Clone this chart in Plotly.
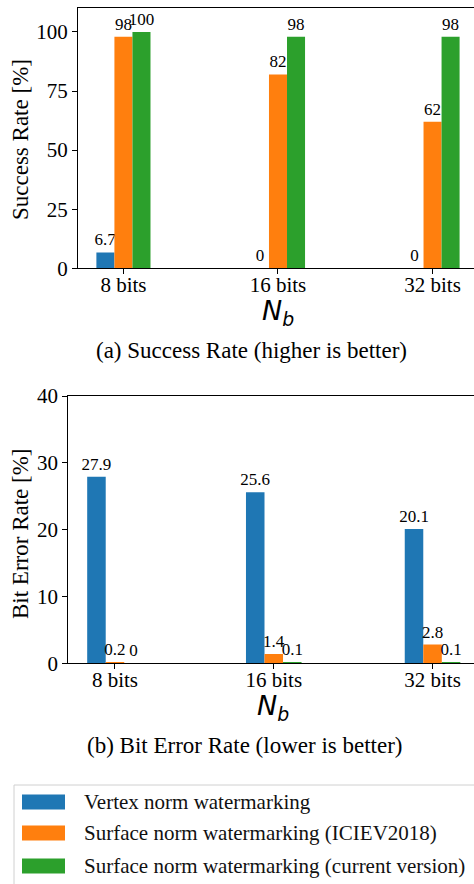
import plotly.graph_objects as go

W, H = 474, 884

categories = ["8 bits", "16 bits", "32 bits"]
series_names = [
    "Vertex norm watermarking",
    "Surface norm watermarking (ICIEV2018)",
    "Surface norm watermarking (current version)",
]
colors = ["#1f77b4", "#ff7f0e", "#2ca02c"]

success_vertex = [6.7, 0, 0]
success_iciev = [98, 82, 62]
success_current = [100, 98, 98]

ber_vertex = [27.9, 25.6, 20.1]
ber_iciev = [0.2, 1.4, 2.8]
ber_current = [0, 0.1, 0.1]

success_series = [success_vertex, success_iciev, success_current]
ber_series = [ber_vertex, ber_iciev, ber_current]

SERIF = "Liberation Serif"
TICK = dict(family=SERIF, size=21, color="black")
LABEL = dict(family=SERIF, size=17, color="black")


def px_x(p):
    return p / W


def px_y(p):
    return 1 - p / H


fig = go.Figure()

for vals, name, col in zip(success_series, series_names, colors):
    fig.add_trace(go.Bar(
        x=categories, y=vals, name=name, marker_color=col, marker_line_width=0,
        texttemplate="%{y}", textposition="outside", textfont=LABEL,
        constraintext="none", cliponaxis=False, showlegend=False,
        xaxis="x", yaxis="y",
    ))

for vals, name, col in zip(ber_series, series_names, colors):
    fig.add_trace(go.Bar(
        x=categories, y=vals, name=name, marker_color=col, marker_line_width=0,
        texttemplate="%{y}", textposition="outside", textfont=LABEL,
        constraintext="none", cliponaxis=False, showlegend=False,
        xaxis="x2", yaxis="y2",
    ))

axis_common = dict(
    showline=True, linecolor="black", linewidth=1.3, mirror=True,
    ticks="outside", ticklen=5, tickwidth=1.2, tickcolor="black",
    showgrid=False, zeroline=False, tickfont=TICK, automargin=False,
)

fig.update_layout(
    width=W, height=H, margin=dict(l=0, r=0, t=0, b=0, pad=0),
    paper_bgcolor="white", plot_bgcolor="white",
    font=dict(family=SERIF, color="black"),
    barmode="group", bargap=0.65, bargroupgap=0,
    xaxis=dict(domain=[px_x(78), px_x(473.5)], anchor="y",
               range=[-0.294, 2.265], ticklabelstandoff=-8, **axis_common),
    yaxis=dict(domain=[px_y(268.3), px_y(8.3)], anchor="x",
               range=[0, 110], tickvals=[0, 25, 50, 75, 100], **axis_common),
    xaxis2=dict(domain=[px_x(68.3), px_x(473.5)], anchor="y2",
                range=[-0.294, 2.258], ticklabelstandoff=-8, **axis_common),
    yaxis2=dict(domain=[px_y(663.3), px_y(396)], anchor="x2",
                range=[0, 40], tickvals=[0, 10, 20, 30, 40], **axis_common),
)

annotations = []
# y-axis titles
annotations.append(dict(text="Success Rate [%]", textangle=-90, x=px_x(20), y=px_y(140),
                        xref="paper", yref="paper", showarrow=False,
                        xanchor="center", yanchor="middle",
                        font=dict(family=SERIF, size=23, color="black")))
annotations.append(dict(text="Bit Error Rate [%]", textangle=-90, x=px_x(20), y=px_y(534),
                        xref="paper", yref="paper", showarrow=False,
                        xanchor="center", yanchor="middle",
                        font=dict(family=SERIF, size=23, color="black")))
# x-axis titles
for xc, yc in [(278, 312), (273, 707)]:
    annotations.append(dict(text="<i>N</i><sub><i>b</i></sub>", x=px_x(xc), y=px_y(yc),
                            xref="paper", yref="paper", showarrow=False,
                            xanchor="center", yanchor="middle",
                            font=dict(family="DejaVu Sans", size=27, color="black")))
# captions
annotations.append(dict(text="(a) Success Rate (higher is better)", x=px_x(252), y=px_y(351),
                        xref="paper", yref="paper", showarrow=False,
                        xanchor="center", yanchor="middle",
                        font=dict(family=SERIF, size=23, color="black")))
annotations.append(dict(text="(b) Bit Error Rate (lower is better)", x=px_x(245), y=px_y(745),
                        xref="paper", yref="paper", showarrow=False,
                        xanchor="center", yanchor="middle",
                        font=dict(family=SERIF, size=23, color="black")))

# legend box with colour patches
shapes = [dict(type="rect", xref="paper", yref="paper",
               x0=px_x(14), x1=px_x(490), y0=px_y(785), y1=px_y(900),
               line=dict(color="#d0d0d0", width=1), fillcolor="white", layer="below")]
row_y = [802, 833, 866]
for name, col, ry in zip(series_names, colors, row_y):
    shapes.append(dict(type="rect", xref="paper", yref="paper",
                       x0=px_x(22), x1=px_x(65), y0=px_y(ry + 7.5), y1=px_y(ry - 7.5),
                       line=dict(width=0), fillcolor=col))
    annotations.append(dict(text=name, x=px_x(82), y=px_y(ry), xref="paper", yref="paper",
                            showarrow=False, xanchor="left", yanchor="middle",
                            font=dict(family=SERIF, size=21, color="#111")))

fig.update_layout(annotations=annotations, shapes=shapes)

fig.write_html("out.html")
